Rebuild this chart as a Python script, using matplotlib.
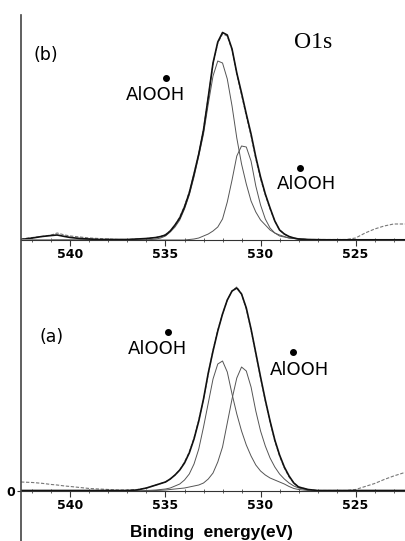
import matplotlib
matplotlib.use("Agg")
import matplotlib.pyplot as plt
from matplotlib.lines import Line2D
from matplotlib.ticker import MultipleLocator

# binding energy grid (eV), shared by both spectra
energy = [542.6, 542.0, 541.5, 541.0, 540.7, 540.3, 540.0, 539.5, 539.0, 538.5,
          538.0, 537.5, 537.0, 536.5, 536.0, 535.5, 535.25, 535.0, 534.75, 534.5,
          534.25, 534.0, 533.75, 533.5, 533.25, 533.0, 532.75, 532.5, 532.25, 532.0,
          531.75, 531.5, 531.25, 531.0, 530.75, 530.5, 530.25, 530.0, 529.75, 529.5,
          529.25, 529.0, 528.75, 528.5, 528.25, 528.0, 527.5, 527.0, 526.5, 526.0,
          525.5, 525.0, 524.5, 524.0, 523.5, 523.0, 522.5, 522.3]

# (b) spectrum: measured, fitted envelope, two components
raw_b = [1, 2.5, 3.5, 5, 7, 5, 4, 3, 2, 1.5,
         1, 0.5, 0.5, 1, 1.5, 2.5, 3.5, 5.5, 9, 15,
         23, 34, 48, 66, 87, 111, 143, 176, 197, 206,
         204, 190, 166, 145, 124, 104, 81, 61, 45, 31,
         19, 10, 6, 3, 2, 1, 0.5, 0.5, 0.5, 0.5,
         0.5, 2, 7, 11, 14, 16, 16, 16]
env_b = [0.5, 2, 3.5, 4.5, 5, 3.5, 2.5, 1.5, 1, 0.5,
         0.5, 0.5, 0.5, 1, 1.5, 2.5, 3.5, 5, 9, 15,
         22, 33, 47, 66, 86, 110, 143, 177, 198, 207.5,
         205, 191, 167, 147, 126, 106, 83, 63, 46, 32,
         19, 10, 6, 3.5, 2, 1, 0.5, 0.3, 0.2, 0.2,
         0.2, 0.2, 0.2, 0.2, 0.2, 0.2, 0.2, 0.2]
c1_b = [0, 0, 0, 0, 0, 0, 0, 0, 0, 0,
        0, 0, 0, 0, 0, 1, 2, 4, 8, 13,
        20, 31, 45, 63, 84, 106, 136, 164, 179, 177,
        161, 134, 102, 76, 56, 39, 28, 20, 15, 10,
        7, 5, 3.5, 2, 1.5, 1, 0.5, 0.2, 0, 0,
        0, 0, 0, 0, 0, 0, 0, 0]
c2_b = [0, 0, 0, 0, 0, 0, 0, 0, 0, 0,
        0, 0, 0, 0, 0, 0, 0, 0, 0, 0,
        0, 0, 0.5, 1, 2, 4, 6, 9, 13, 21,
        38, 60, 84, 94, 93, 79, 54, 35, 21, 12,
        7, 4, 3, 2, 1.5, 1, 0.5, 0.2, 0, 0,
        0, 0, 0, 0, 0, 0, 0, 0]
base_b_e = [542.6, 541.0]
base_b_h = [0, 0]

# (a) spectrum
raw_a = [9, 8.5, 7.7, 6.5, 6, 5, 4.5, 3.5, 2.5, 2,
         1.5, 1, 1, 1.5, 3, 6, 7.5, 9, 12, 16,
         21, 29, 39, 53, 71, 92, 117, 141, 161, 177,
         191, 200, 204, 197, 182, 161, 137, 113, 90, 69,
         50, 35, 23, 14, 8, 4, 1.5, 0.5, 0.5, 0.5,
         0.5, 1.5, 4.5, 7.5, 11.5, 15, 18, 19]
env_a = [0.5, 0.5, 0.5, 0.5, 0.5, 0.5, 0.5, 0.5, 0.5, 0.5,
         0.5, 0.5, 0.5, 1, 3, 6, 7.5, 9, 12, 16,
         21, 28, 38, 52, 70, 92, 118, 140, 160, 177,
         191, 200, 203, 197, 183, 162, 138, 114, 91, 70,
         51, 36, 24, 15, 8, 4, 1.5, 0.5, 0.5, 0.5,
         0.5, 0.5, 0.5, 0.5, 0.5, 0.5, 0.5, 0.5]
c1_a = [0, 0, 0, 0, 0, 0, 0, 0, 0, 0,
        0, 0, 0, 0, 0.5, 1, 1.5, 2, 3, 5,
        7, 11, 17, 27, 42, 64, 88, 112, 127, 130,
        119, 97, 77, 60, 46, 35, 26, 20, 16, 13,
        11, 9, 7, 4.5, 2.5, 1.5, 0.5, 0.2, 0, 0,
        0, 0, 0, 0, 0, 0, 0, 0]
c2_a = [0, 0, 0, 0, 0, 0, 0, 0, 0, 0,
        0, 0, 0, 0, 0, 0.5, 0.7, 1, 1.5, 2,
        2.5, 3, 4, 5, 6, 8, 12, 18, 29, 44,
        68, 92, 113, 124, 120, 104, 80, 60, 45, 33,
        24, 17, 12, 8, 5, 3, 1, 0.3, 0, 0,
        0, 0, 0, 0, 0, 0, 0, 0]

xticks = [540, 535, 530, 525]
xlabel = "Binding  energy(eV)"

W, H = 406, 541
def fx(x):
    return x / W
def fy(y):
    return 1 - y / H

fig = plt.figure(figsize=(W / 100, H / 100), dpi=100)
ax_b = fig.add_axes([fx(21), fy(240), fx(385), 225 / H])
ax_a = fig.add_axes([fx(21), fy(491), fx(385), 229 / H])

tickfont = {"family": ["Liberation Sans Narrow", "DejaVu Sans"], "weight": "bold", "size": 9}

for ax, raw, env, c1, c2 in [(ax_b, raw_b, env_b, c1_b, c2_b),
                             (ax_a, raw_a, env_a, c1_a, c2_a)]:
    ax.patch.set_visible(False)
    ax.plot(energy, c1, color="#555555", lw=0.7, solid_joinstyle="round")
    ax.plot(energy, c2, color="#555555", lw=0.7, solid_joinstyle="round")
    ax.plot(energy, raw, color="#777777", lw=0.8, ls=(0, (3, 1.5)))
    ax.plot(energy, env, color="#111111", lw=1.2, solid_joinstyle="round")
    ax.set_xlim(542.6, 522.35)
    for s in ["top", "right", "left"]:
        ax.spines[s].set_visible(False)
    ax.spines["bottom"].set_color("#333333")
    ax.spines["bottom"].set_linewidth(0.8)
    ax.set_xticks(xticks)
    ax.set_xticklabels([str(t) for t in xticks], fontdict=tickfont)
    ax.xaxis.set_minor_locator(MultipleLocator(1))
    ax.tick_params(axis="x", which="major", direction="out", length=4,
                   width=0.8, pad=2, colors="#333333")
    ax.tick_params(axis="x", which="minor", direction="inout", length=2.5,
                   width=0.6, colors="#444444")
    ax.tick_params(axis="x", labelcolor="black")

ax_b.plot(base_b_e, base_b_h, color="#999999", lw=2.0, solid_capstyle="butt")
ax_b.set_ylim(0, 225)
ax_b.set_yticks([])
ax_a.set_ylim(0, 229)
ax_a.set_yticks([0])
ax_a.set_yticklabels(["0"], fontdict=tickfont)
ax_a.tick_params(axis="y", length=3, width=0.8, pad=1, colors="#333333", labelcolor="black")

# single long left axis line
fig.add_artist(Line2D([fx(21), fx(21)], [fy(15), 0], color="#444444", lw=1.2,
                      transform=fig.transFigure))

lab = dict(family="DejaVu Sans", size=13, color="black", ha="center", va="baseline")
fig.text(fx(155.6), fy(100), "AlOOH", **lab)
fig.text(fx(306.7), fy(189), "AlOOH", **lab)
fig.text(fx(157.5), fy(354), "AlOOH", **lab)
fig.text(fx(299), fy(375), "AlOOH", **lab)
for dx, dy in [(166, 78), (300, 168.3), (168.3, 332.3), (292.7, 351.7)]:
    fig.add_artist(Line2D([fx(dx)], [fy(dy)], marker="o", ms=4, color="black",
                          ls="none", transform=fig.transFigure))

fig.text(fx(46), fy(55), "(b)", family="DejaVu Sans", size=12.5, ha="center", va="center")
fig.text(fx(52), fy(337.5), "(a)", family="DejaVu Sans", size=12.5, ha="center", va="center")
fig.text(fx(313), fy(48), "O1s", family="Liberation Serif", size=17, ha="center", va="baseline")
fig.text(fx(211), fy(532), xlabel, family="Liberation Sans", weight="bold", size=12.4,
         ha="center", va="center")

fig.savefig("out.png", dpi=100)
